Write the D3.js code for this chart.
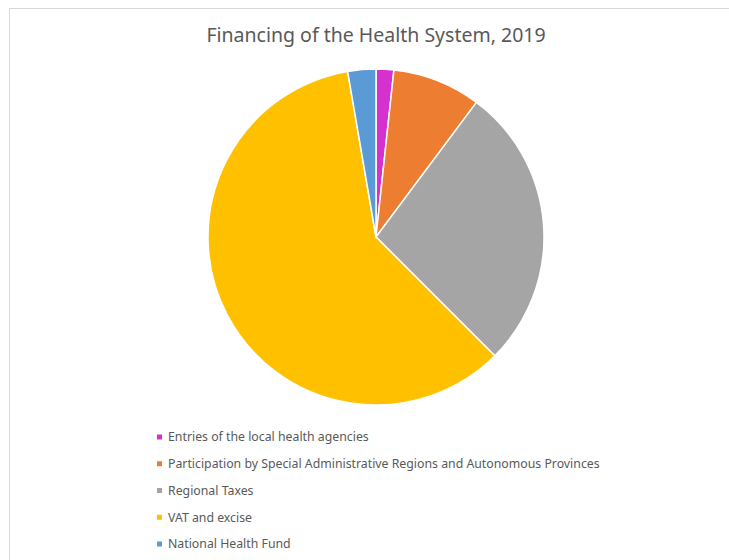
<!DOCTYPE html>
<html>
<head>
<meta charset="utf-8">
<script src="https://cdn.jsdelivr.net/npm/d3@7"></script>
<style>
  html, body { margin: 0; padding: 0; background: #fff; }
  svg { display: block; }
</style>
</head>
<body>
<svg id="chart" width="729" height="560"></svg>
<script>
// Sources of health system financing, share of total (%)
const categories = [
  "Entries of the local health agencies",
  "Participation by Special Administrative Regions and Autonomous Provinces",
  "Regional Taxes",
  "VAT and excise",
  "National Health Fund"
];
const values = [1.7, 8.5, 27.3, 59.8, 2.7];
const colors = ["#d431cf", "#ed7d31", "#a5a5a5", "#ffc000", "#5b9bd5"];
const title = "Financing of the Health System, 2019";

const svg = d3.select("#chart");
const W = 729, H = 560;

// chart area frame
svg.append("rect")
  .attr("x", 9.5).attr("y", 8.5)
  .attr("width", W + 10).attr("height", H + 10)
  .attr("fill", "#fff")
  .attr("stroke", "#d9d9d9")
  .attr("stroke-width", 1);

svg.append("text")
  .attr("x", 376).attr("y", 42)
  .attr("text-anchor", "middle")
  .attr("font-family", "'Noto Sans', sans-serif")
  .attr("font-size", 19.5)
  .attr("fill", "#595959")
  .text(title);

const data = categories.map((c, i) => ({ name: c, value: values[i], color: colors[i] }));

const pie = d3.pie().value(d => d.value).sort(null);
const arc = d3.arc().innerRadius(0).outerRadius(168);

const g = svg.append("g").attr("transform", "translate(376,237)");
g.selectAll("path")
  .data(pie(data))
  .join("path")
  .attr("d", arc)
  .attr("fill", d => d.data.color)
  .attr("stroke", "#fff")
  .attr("stroke-width", 1.5)
  .attr("stroke-linejoin", "round");

// legend
const legendY = d3.scalePoint().domain(categories).range([437, 544]);
const lg = svg.append("g");
const item = lg.selectAll("g")
  .data(data)
  .join("g")
  .attr("transform", d => `translate(157,${legendY(d.name)})`);
item.append("rect")
  .attr("x", 0).attr("y", -2.5)
  .attr("width", 5).attr("height", 5)
  .attr("fill", d => d.color);
item.append("text")
  .attr("x", 11).attr("y", 0)
  .attr("dy", "0.35em")
  .attr("font-family", "'Noto Sans', sans-serif")
  .attr("font-size", 12.3)
  .attr("fill", "#595959")
  .text(d => d.name);
</script>
</body>
</html>
